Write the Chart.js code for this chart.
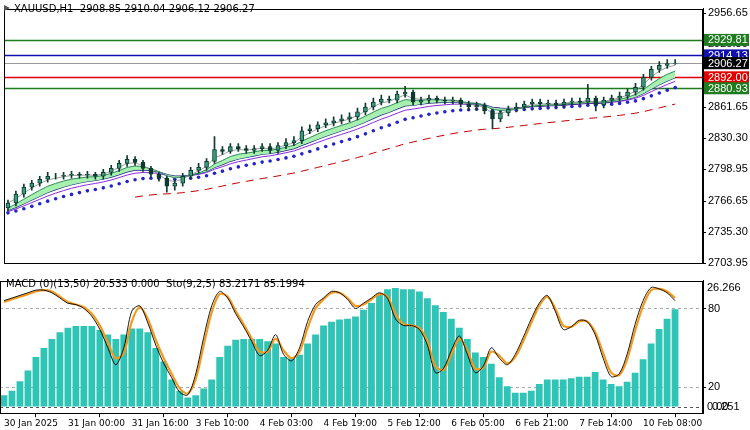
<!DOCTYPE html>
<html><head><meta charset="utf-8">
<script src="https://cdn.jsdelivr.net/npm/chart.js@4/dist/chart.umd.min.js"></script>
<style>
body{margin:0;background:#fff;width:750px;height:430px;overflow:hidden;position:relative}
canvas{position:absolute;left:0}
#c1{top:0}#c2{top:272px}
</style></head><body>
<canvas id="c1" width="750" height="272"></canvas>
<canvas id="c2" width="750" height="158"></canvas>
<script>
const closes=[2765,2774,2781,2785,2789,2792,2792,2793,2794,2793,2794,2792,2796,2800,2805,2809,2806,2800,2794,2790,2782,2785,2792,2798,2801,2807,2819,2817,2822,2820,2818,2820,2822,2818,2823,2826,2828,2838,2840,2844,2846,2848,2850,2852,2857,2862,2867,2870,2869,2875,2877,2867,2869,2871,2869,2868,2869,2865,2862,2864,2858,2850,2856,2860,2862,2865,2867,2865,2866,2864,2867,2868,2867,2871,2864,2869,2871,2873,2877,2882,2892,2900,2904,2906,2906.27];
const firstOpen=2760;
const highs=[2768,2777,2784,2788,2792,2796,2795,2796,2797,2796,2797,2796,2799,2803,2808,2813,2812,2808,2802,2796,2792,2788,2795,2801,2805,2810,2832,2822,2825,2825,2823,2823,2825,2825,2826,2830,2832,2842,2844,2847,2850,2852,2854,2856,2861,2866,2871,2874,2873,2878,2883,2879,2872,2874,2873,2872,2872,2871,2868,2867,2866,2860,2858,2863,2866,2868,2870,2870,2869,2869,2870,2871,2871,2885,2873,2872,2874,2877,2880,2886,2895,2903,2908,2910,2910.04];
const lows=[2757,2762,2771,2778,2782,2786,2789,2789,2790,2790,2790,2789,2789,2793,2797,2802,2803,2797,2791,2787,2776,2778,2782,2789,2795,2798,2805,2814,2815,2817,2815,2815,2817,2815,2815,2820,2823,2825,2835,2837,2841,2843,2845,2847,2849,2854,2859,2864,2866,2866,2872,2864,2864,2866,2866,2865,2865,2862,2859,2859,2855,2840,2847,2853,2857,2859,2862,2862,2862,2861,2861,2864,2864,2864,2858,2861,2866,2868,2870,2874,2879,2889,2897,2901,2905.12];
const macd=[2.5,3.5,5.6,8,11,13,15,16.5,17.5,17.9,17.9,17.9,17,16,15,16,17.3,17.3,16.5,13,10,6,3.5,2,2.5,4,6,11,13.5,14.8,15,15,15,14.5,14,11,10.7,11.5,14,16,18,18.8,19.3,19.5,20,21.5,23,25,26,26.3,26,26,25.5,24,22.5,21,19.5,17.5,15,12,11,9.5,6.5,4.5,3.1,3.1,3.5,5,6,6,6,6.3,6.6,6.6,7.7,6,5,4.5,5.5,7.5,10.5,14,17.2,19.5,21.6];
const stochMain=[86,88,90,92,94,94,92,88,84,83,80,74,64,50,37,50,78,82,69,52,38,27,16,14,30,58,82,93,88,76,66,55,44,48,60,45,40,50,70,83,88,93,92,87,80,84,88,92,88,72,67,67,64,52,31,34,48,59,45,31,36,50,42,37,45,58,72,84,90,78,64,66,71,70,60,42,28,30,45,68,86,96,95,92,86];
const stochSignal=[85,87,89,91,93,94,93,89,85,83,81,76,67,54,42,46,70,81,72,56,42,30,19,15,26,52,77,91,89,78,68,57,47,47,57,48,42,47,65,80,87,92,92,88,82,83,87,91,89,76,68,67,65,55,36,33,45,57,48,34,35,47,44,38,43,55,69,82,89,80,67,66,70,70,62,46,31,29,41,63,82,94,95,93,88];
const tickNames=["30 Jan 2025","31 Jan 00:00","31 Jan 16:00","3 Feb 10:00","4 Feb 03:00","4 Feb 19:00","5 Feb 12:00","6 Feb 05:00","6 Feb 21:00","7 Feb 14:00","10 Feb 08:00"];
const priceTicks=[2956.65,2925.30,2861.65,2830.30,2798.95,2766.65,2735.30,2703.95];
const levels=[{v:2929.81,c:'#1e7b1e',t:'#fff'},{v:2914.13,c:'#1010b0',t:'#fff'},{v:2906.27,c:'#999',t:'#fff',bg:'#000'},{v:2892.00,c:'#e00000',t:'#fff'},{v:2880.93,c:'#1e7b1e',t:'#fff'}];
const legendTop="XAUUSD,H1  2908.85 2910.04 2906.12 2906.27";
const legendBottom="MACD (0)(13,50) 20.533 0.000  Sto(9,2,5) 83.2171 85.1994";

const N=88;
const labels=Array.from({length:N},(_,i)=>i%8===0&&tickNames[i/8]?tickNames[i/8]:'');
const opens=closes.map((c,i)=>i===0?firstOpen:closes[i-1]);
function ema(p,start=0,seed=null){const k=2/(p+1);let e=seed??closes[0];return closes.map((c,i)=>{e=(i===0&&seed==null)?c:e+(c-e)*k;return i<start?null:e;});}
const e2=ema(3),e6=ema(6,0,2758),e10=ema(10,0,2756),e13=ema(13,0,2755),e20=ema(20,0,2754),e45=ema(45,16,2745);
const F='"DejaVu Sans"', FA='"Liberation Sans"';
const boxPlugin={id:'box',afterDraw(ch){const a=ch.chartArea,x=ch.ctx;x.save();x.strokeStyle='#000';x.lineWidth=1;x.strokeRect(Math.round(a.left)+0.5,Math.round(a.top)+0.5,Math.round(a.right-a.left)-1,Math.round(a.bottom-a.top)-1);x.restore();}};
const levelPlugin={id:'lv',beforeDatasetsDraw(ch){const y=ch.scales.y,a=ch.chartArea,x=ch.ctx;x.save();levels.forEach(l=>{const p=Math.round(y.getPixelForValue(l.v))+0.5;x.strokeStyle=l.c;x.lineWidth=l.bg?1:1.5;x.beginPath();x.moveTo(a.left,p);x.lineTo(a.right,p);x.stroke();});x.restore();},
afterDraw(ch){const y=ch.scales.y,a=ch.chartArea,x=ch.ctx;x.save();x.font='11px '+FA;x.textBaseline='middle';levels.forEach(l=>{const p=y.getPixelForValue(l.v);x.fillStyle=l.bg||l.c;x.fillRect(a.right+1,p-6,45,12);x.fillStyle=l.t;x.fillText(l.v.toFixed(2),a.right+5,p+0.5);});
x.fillStyle='#000';x.font='10px '+F;x.textBaseline='alphabetic';x.fillText(legendTop,14,12);x.fillStyle='#555';x.beginPath();x.moveTo(4,5);x.lineTo(10,8);x.lineTo(4,11);x.fill();x.restore();}};
const common={responsive:false,animation:false,layout:{padding:0},plugins:{legend:{display:false},tooltip:{enabled:false}}};
const fit=s=>{s.width=47;};
new Chart(document.getElementById('c1'),{type:'bar',data:{labels,datasets:[
{type:'line',data:e45,borderColor:'#c00000',borderWidth:1,borderDash:[8,6],pointRadius:0,order:9},
{type:'line',data:e20,borderColor:'#2020c0',borderWidth:0,showLine:false,pointRadius:1.8,pointBackgroundColor:'#2424c8',pointBorderWidth:0,order:8},
{type:'line',data:e13,borderColor:'#8a2be2',borderWidth:1,pointRadius:0,order:7},
{type:'line',data:e10,borderColor:'#1a237e',borderWidth:1.2,pointRadius:0,order:6},
{type:'line',data:e6,borderColor:'#2e8b57',borderWidth:1,pointRadius:0,fill:'-1',backgroundColor:'#a8f0b0',order:5},
{type:'line',data:e2,borderColor:'#888',borderWidth:0.8,pointRadius:0,order:4},
{data:closes.map((c,i)=>[lows[i],highs[i]]),backgroundColor:'#0d3b30',barThickness:1,grouped:false,order:2},
{data:closes.map((c,i)=>[opens[i],c]),backgroundColor:closes.map((c,i)=>c>=opens[i]?'#3a9c7c':'#0d3b30'),borderColor:'#0d3b30',borderWidth:1,borderSkipped:false,barThickness:4,grouped:false,order:1}
]},options:{...common,scales:{x:{display:false},y:{position:'right',min:2703.95,max:2961.44,afterFit:fit,afterBuildTicks:s=>{s.ticks=priceTicks.map(v=>({value:v}));},grid:{drawOnChartArea:false,tickLength:3,color:'#000'},border:{color:'#000'},ticks:{color:'#000',font:{family:FA,size:11},padding:2,callback:v=>v.toFixed(2)}}}},plugins:[boxPlugin,levelPlugin]});

const botPlugin={id:'bt',beforeDatasetsDraw(ch){const y=ch.scales.y,a=ch.chartArea,x=ch.ctx;x.save();x.strokeStyle='#aaa';x.setLineDash([3,3]);[80,20].forEach(v=>{const p=Math.round(y.getPixelForValue(v))+0.5;x.beginPath();x.moveTo(a.left,p);x.lineTo(a.right,p);x.stroke();});const p0=Math.round(ch.scales.h.getPixelForValue(0))+0.5;x.strokeStyle='#555';x.beginPath();x.moveTo(a.left,p0);x.lineTo(a.right,p0);x.stroke();x.restore();},
afterDraw(ch){const h=ch.scales.h,a=ch.chartArea,x=ch.ctx;x.save();x.fillStyle='#000';x.font='11px '+FA;x.textBaseline='middle';x.fillText('26.266',a.right+4,h.getPixelForValue(26.266));x.fillText('0.00',a.right+4,h.getPixelForValue(0));x.fillText('0.251',a.right+9,h.getPixelForValue(0)+0.5);x.font='10px '+F;x.textBaseline='alphabetic';x.fillText(legendBottom,6,15);x.restore();}};
new Chart(document.getElementById('c2'),{type:'bar',data:{labels,datasets:[
{type:'line',data:stochSignal,borderColor:'#f39a1e',borderWidth:2.2,pointRadius:0,yAxisID:'y',tension:0.3,order:2},
{type:'line',data:stochMain,borderColor:'#000',borderWidth:0.9,pointRadius:0,yAxisID:'y',tension:0.3,order:1},
{data:macd,backgroundColor:'#2ec4b6',yAxisID:'h',categoryPercentage:1,barPercentage:0.85,order:3}
]},options:{...common,layout:{padding:{top:2}},scales:{
x:{offset:true,afterBuildTicks:s=>{s.ticks=s.ticks.filter(t=>t.value%8===0&&t.value<=80);},grid:{drawOnChartArea:false,tickLength:4,color:'#000'},border:{color:'#000'},ticks:{autoSkip:false,maxRotation:0,align:'start',color:'#000',font:{family:F,size:9},padding:1}},
y:{position:'right',min:0,max:101.3,afterFit:fit,afterBuildTicks:s=>{s.ticks=[{value:80},{value:20}];},grid:{drawOnChartArea:false,tickLength:3,color:'#000'},border:{color:'#000'},ticks:{color:'#000',font:{family:FA,size:11},padding:2}},
h:{display:false,min:-1.46,max:27.94}}},plugins:[boxPlugin,botPlugin]});
</script></body></html>
